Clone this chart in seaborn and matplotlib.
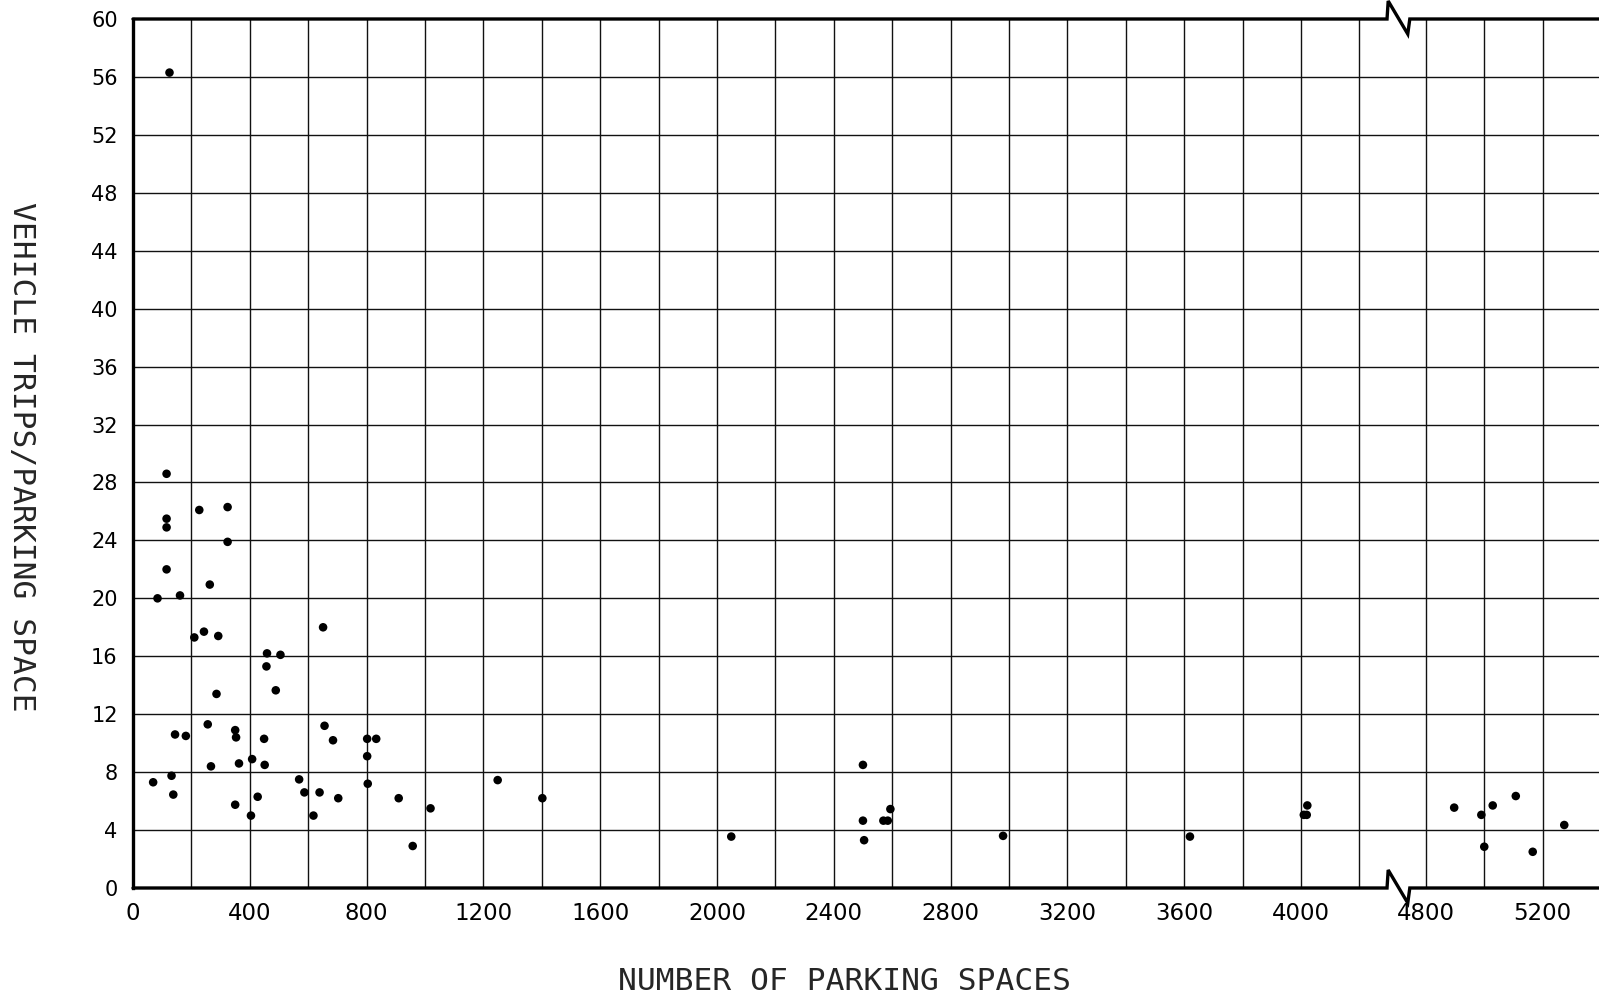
import matplotlib
matplotlib.use("Agg")
import matplotlib.pyplot as plt
import matplotlib.transforms as mtransforms
import numpy as np
import pandas as pd
import seaborn as sns

# ---- data ----
parking_spaces = [125, 115, 115, 115, 115, 84, 161, 227, 324, 324, 263, 210, 243, 292, 651,
                  69, 132, 138, 144, 181, 256, 286, 267, 350, 353, 350, 363, 408, 404, 427,
                  459, 457, 505, 489, 449, 451, 569, 587, 618, 639, 656, 685, 703, 802, 802,
                  804, 833, 910, 958, 1019, 1249, 1402, 2049, 2500, 2500, 2504, 2570, 2585,
                  2594, 2980, 3620, 4022, 4010, 4020, 4897, 4990, 5000, 5029, 5108, 5166, 5274]
trips_per_space = [56.3, 28.6, 25.5, 24.9, 22.0, 20.0, 20.2, 26.1, 26.3, 23.9, 20.95, 17.3, 17.7, 17.4, 18.0,
                   7.3, 7.75, 6.45, 10.6, 10.5, 11.3, 13.4, 8.4, 10.9, 10.4, 5.75, 8.6, 8.9, 5.0, 6.3,
                   16.2, 15.3, 16.1, 13.65, 10.3, 8.5, 7.5, 6.6, 5.0, 6.6, 11.2, 10.2, 6.2, 10.3, 9.1,
                   7.2, 10.3, 6.2, 2.9, 5.5, 7.45, 6.2, 3.55, 8.5, 4.65, 3.3, 4.65, 4.65,
                   5.45, 3.6, 3.55, 5.7, 5.05, 5.05, 5.55, 5.05, 2.85, 5.7, 6.35, 2.5, 4.35]

x_tick_values = [0, 400, 800, 1200, 1600, 2000, 2400, 2800, 3200, 3600, 4000, 4800, 5200]
x_grid_values = list(range(200, 4201, 200)) + [4800, 5000, 5200]
y_tick_values = list(range(0, 61, 4))

# broken axis: the range 4200..4800 is squeezed into a single wider cell
BREAK_START, BREAK_SHIFT = 4400, 372


def to_display(v):
    v = np.asarray(v, dtype=float)
    return np.where(v >= BREAK_START, v - BREAK_SHIFT, v)


df = pd.DataFrame({"x": to_display(parking_spaces), "y": trips_per_space})

sns.set_style("white")
plt.rcParams["font.family"] = ["DejaVu Sans"]

fig = plt.figure(figsize=(15.99, 9.99), dpi=100)
ax = fig.add_axes([133 / 1599, 1 - 888 / 999, 1 - 133 / 1599, (888 - 19) / 999])

XMAX = 5021
ax.set_xlim(0, XMAX)
ax.set_ylim(0, 60)

# grid
for gx in to_display(x_grid_values):
    ax.axvline(gx, color="#111111", lw=1.0, zorder=1)
for gy in np.arange(4, 60, 4):
    ax.axhline(gy, color="#111111", lw=1.0, zorder=1)

sns.scatterplot(data=df, x="x", y="y", ax=ax, color="black", s=38,
                edgecolor="none", linewidth=0, zorder=3, legend=False)

ax.set_xticks(to_display(x_tick_values))
ax.set_xticklabels([str(v) for v in x_tick_values], fontsize=16.5)
ax.set_yticks(y_tick_values)
ax.set_yticklabels([str(v) for v in y_tick_values], fontsize=15)
ax.tick_params(axis="x", length=0, pad=10, colors="black")
ax.tick_params(axis="y", length=0, pad=11, colors="black")
ax.set_xlabel("")
ax.set_ylabel("")

for side in ["top", "bottom", "right"]:
    ax.spines[side].set_visible(False)
ax.spines["left"].set_color("black")
ax.spines["left"].set_linewidth(2.4)

# top and bottom frame lines with break zigzags
trans = mtransforms.blended_transform_factory(ax.transData, ax.transAxes)
py = 1 / 869.0
b0, b1, b2 = 4295, 4366, 4373
for base in [1.0, 0.0]:
    xs = [0, b0, b0 + 4, b1, b2, XMAX]
    ys = [base, base, base + 18 * py, base - 15 * py, base, base]
    ax.plot(xs, ys, color="black", lw=2.4, transform=trans, clip_on=False,
            solid_joinstyle="miter", zorder=5)

fig.text(21 / 1599, 1 - 457 / 999, "VEHICLE TRIPS/PARKING SPACE", rotation=270,
         ha="center", va="center", fontsize=22.5, family=["DejaVu Sans Mono"])
fig.text(845 / 1599, 1 - 981 / 999, "NUMBER OF PARKING SPACES",
         ha="center", va="center", fontsize=22.5, family=["DejaVu Sans Mono"])

fig.savefig("out.png", dpi=100, facecolor="white")
